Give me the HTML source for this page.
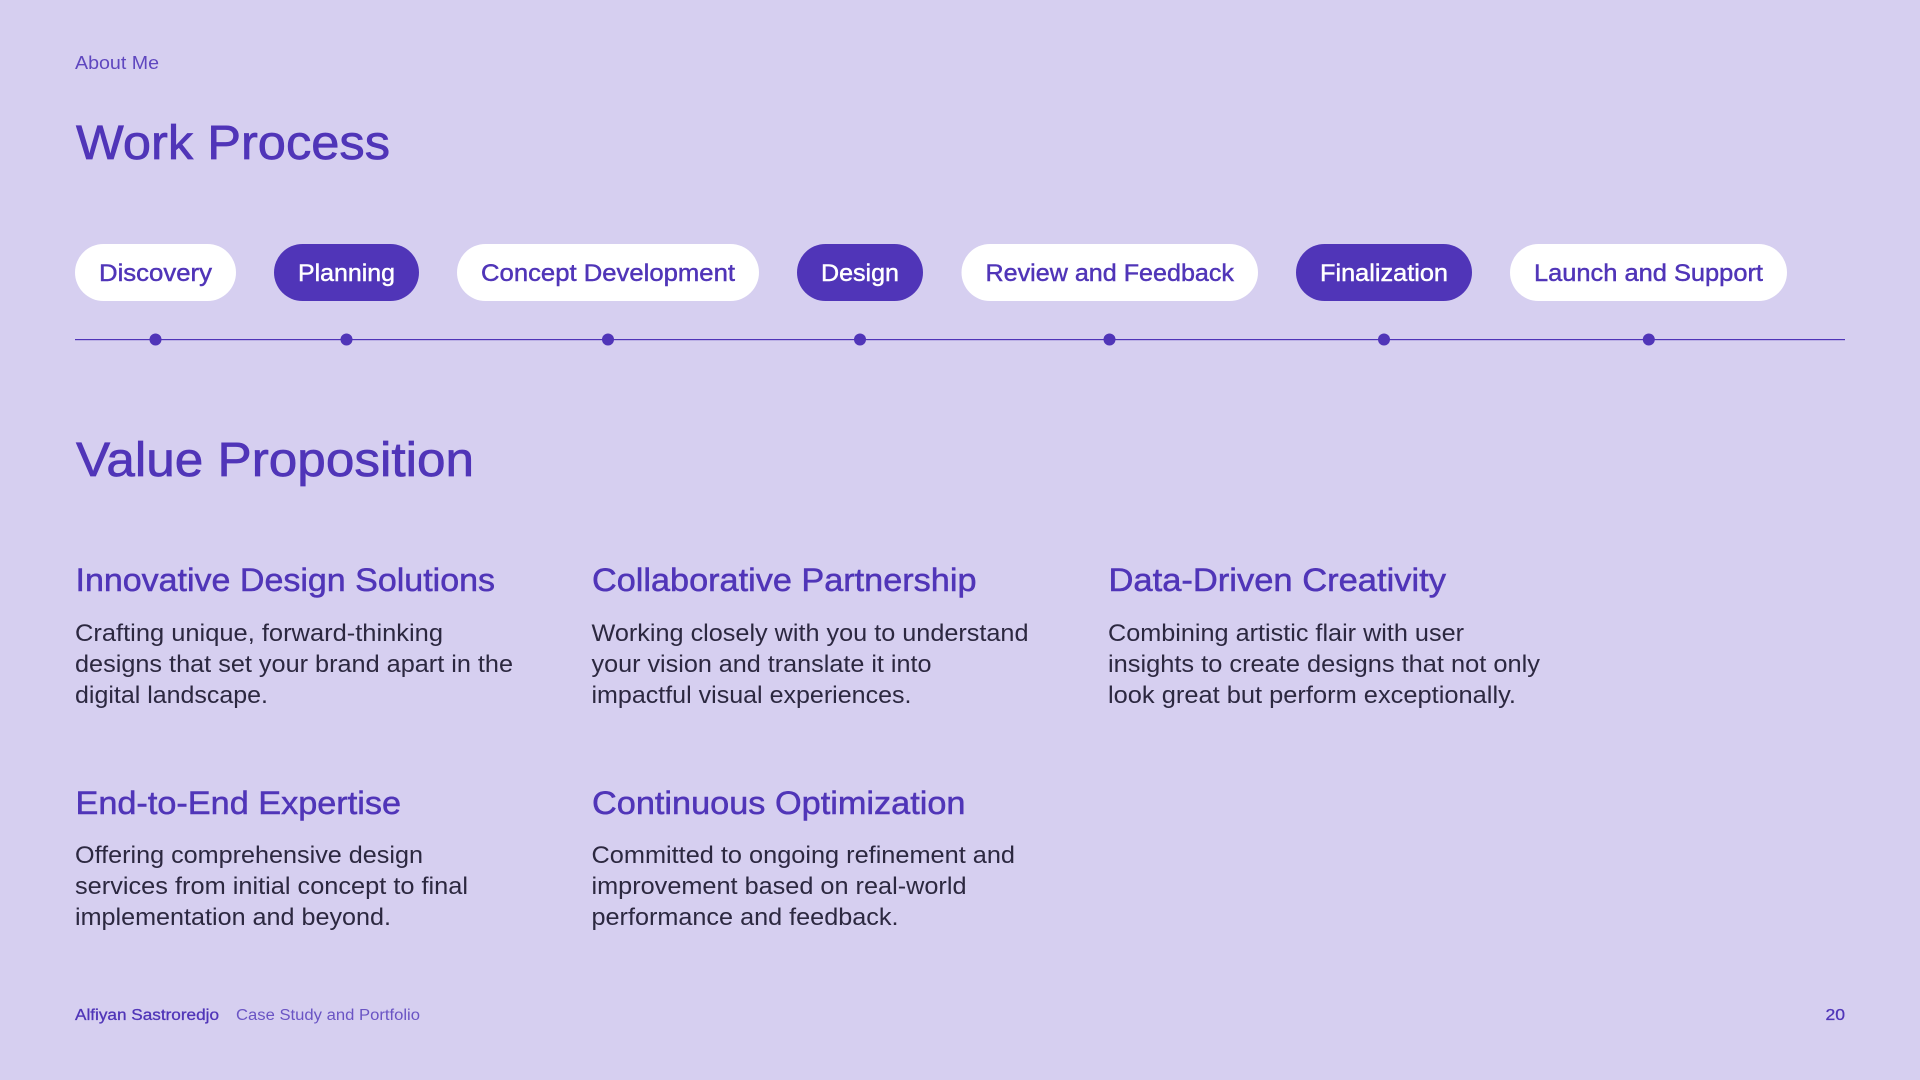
<!DOCTYPE html>
<html><head><meta charset="utf-8"><style>
html,body{margin:0;padding:0;background:#d6cff0}
svg{display:block}
text{font-family:"Liberation Sans",sans-serif}
.h{fill:#5035b8;stroke:#5035b8}
.b{fill:#2c2840;font-size:24.5px}
.p{font-size:24.5px;stroke-width:.45px}
</style></head><body>
<svg width="1920" height="1080" viewBox="0 0 1920 1080" xmlns="http://www.w3.org/2000/svg">
<rect width="1920" height="1080" fill="#d6cff0"/>
<text x="75" y="69" font-size="18" fill="#5f47bf" textLength="84" lengthAdjust="spacingAndGlyphs">About Me</text>
<text class="h" x="76" y="159" font-size="48" stroke-width=".7" textLength="314" lengthAdjust="spacingAndGlyphs">Work Process</text>

<rect x="75" y="244" width="161" height="57" rx="28.5" fill="#fff"/>
<rect x="274" y="244" width="145" height="57" rx="28.5" fill="#5035b8"/>
<rect x="457" y="244" width="302" height="57" rx="28.5" fill="#fff"/>
<rect x="797" y="244" width="126" height="57" rx="28.5" fill="#5035b8"/>
<rect x="961.500" y="244" width="296.500" height="57" rx="28.500" fill="#fff"/>
<rect x="1296" y="244" width="176" height="57" rx="28.5" fill="#5035b8"/>
<rect x="1510" y="244" width="277" height="57" rx="28.5" fill="#fff"/>
<text class="p" x="99" y="281" fill="#5035b8" stroke="#5035b8" textLength="113" lengthAdjust="spacingAndGlyphs">Discovery</text>
<text class="p" x="298" y="281" fill="#fff" stroke="#fff" textLength="97" lengthAdjust="spacingAndGlyphs">Planning</text>
<text class="p" x="481" y="281" fill="#5035b8" stroke="#5035b8" textLength="254" lengthAdjust="spacingAndGlyphs">Concept Development</text>
<text class="p" x="821" y="281" fill="#fff" stroke="#fff" textLength="78" lengthAdjust="spacingAndGlyphs">Design</text>
<text class="p" x="985.500" y="281" fill="#5035b8" stroke="#5035b8" textLength="248.500" lengthAdjust="spacingAndGlyphs">Review and Feedback</text>
<text class="p" x="1320" y="281" fill="#fff" stroke="#fff" textLength="128" lengthAdjust="spacingAndGlyphs">Finalization</text>
<text class="p" x="1534" y="281" fill="#5035b8" stroke="#5035b8" textLength="229" lengthAdjust="spacingAndGlyphs">Launch and Support</text>

<rect x="75" y="339" width="1770" height="1.2" fill="#5035b8"/>
<g fill="#5035b8">
<circle cx="155.500" cy="339.500" r="6"/><circle cx="346.500" cy="339.500" r="6"/><circle cx="608" cy="339.500" r="6"/><circle cx="860" cy="339.500" r="6"/><circle cx="1109.500" cy="339.500" r="6"/><circle cx="1384" cy="339.500" r="6"/><circle cx="1648.800" cy="339.500" r="6"/>
</g>

<text class="h" x="76" y="476" font-size="48" stroke-width=".7" textLength="398" lengthAdjust="spacingAndGlyphs">Value Proposition</text>

<g font-size="32" class="h" stroke-width=".5">
<text x="75.500" y="591" textLength="419.500" lengthAdjust="spacingAndGlyphs">Innovative Design Solutions</text>
<text x="592" y="591" textLength="384.500" lengthAdjust="spacingAndGlyphs">Collaborative Partnership</text>
<text x="1108.500" y="591" textLength="337.500" lengthAdjust="spacingAndGlyphs">Data-Driven Creativity</text>
<text x="75.500" y="814" textLength="325.500" lengthAdjust="spacingAndGlyphs">End-to-End Expertise</text>
<text x="592" y="814" textLength="373.500" lengthAdjust="spacingAndGlyphs">Continuous Optimization</text>
</g>

<text class="b" x="75" y="641" textLength="368" lengthAdjust="spacingAndGlyphs">Crafting unique, forward-thinking</text>
<text class="b" x="75" y="672" textLength="438" lengthAdjust="spacingAndGlyphs">designs that set your brand apart in the</text>
<text class="b" x="75" y="703" textLength="193" lengthAdjust="spacingAndGlyphs">digital landscape.</text>
<text class="b" x="591.500" y="641" textLength="437" lengthAdjust="spacingAndGlyphs">Working closely with you to understand</text>
<text class="b" x="591.500" y="672" textLength="340" lengthAdjust="spacingAndGlyphs">your vision and translate it into</text>
<text class="b" x="591.500" y="703" textLength="320" lengthAdjust="spacingAndGlyphs">impactful visual experiences.</text>
<text class="b" x="1108" y="641" textLength="356" lengthAdjust="spacingAndGlyphs">Combining artistic flair with user</text>
<text class="b" x="1108" y="672" textLength="432" lengthAdjust="spacingAndGlyphs">insights to create designs that not only</text>
<text class="b" x="1108" y="703" textLength="408" lengthAdjust="spacingAndGlyphs">look great but perform exceptionally.</text>
<text class="b" x="75" y="863" textLength="348" lengthAdjust="spacingAndGlyphs">Offering comprehensive design</text>
<text class="b" x="75" y="894" textLength="393" lengthAdjust="spacingAndGlyphs">services from initial concept to final</text>
<text class="b" x="75" y="925" textLength="316" lengthAdjust="spacingAndGlyphs">implementation and beyond.</text>
<text class="b" x="591.500" y="863" textLength="423.500" lengthAdjust="spacingAndGlyphs">Committed to ongoing refinement and</text>
<text class="b" x="591.500" y="894" textLength="375" lengthAdjust="spacingAndGlyphs">improvement based on real-world</text>
<text class="b" x="591.500" y="925" textLength="307" lengthAdjust="spacingAndGlyphs">performance and feedback.</text>

<text x="75" y="1020" font-size="15.500" fill="#5035b8" stroke="#5035b8" stroke-width=".3" textLength="144" lengthAdjust="spacingAndGlyphs">Alfiyan Sastroredjo</text>
<text x="236" y="1020" font-size="15.500" fill="#6a54c4" textLength="184" lengthAdjust="spacingAndGlyphs">Case Study and Portfolio</text>
<text x="1825.500" y="1020" font-size="15.500" fill="#5035b8" stroke="#5035b8" stroke-width=".3" textLength="19.500" lengthAdjust="spacingAndGlyphs">20</text>
</svg>
</body></html>
